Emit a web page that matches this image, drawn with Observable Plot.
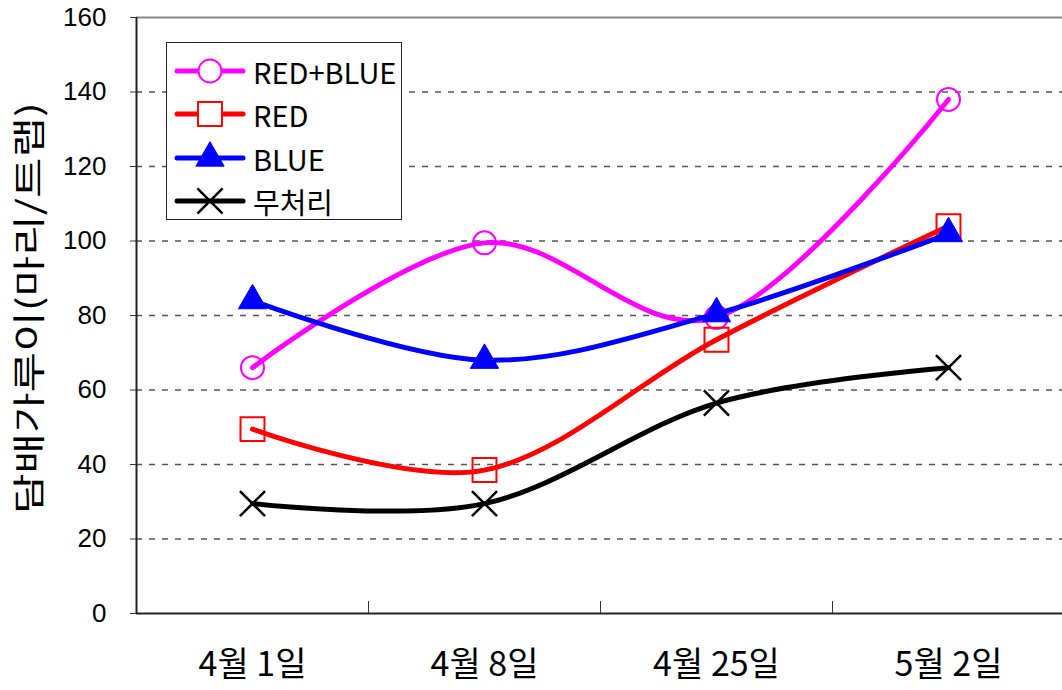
<!DOCTYPE html>
<html><head><meta charset="utf-8">
<script src="https://cdn.jsdelivr.net/npm/d3@7"></script>
<script src="https://cdn.jsdelivr.net/npm/@observablehq/plot@0.6"></script>
<style>
body{margin:0;background:#fff;}
#wrap{position:relative;width:1062px;height:690px;overflow:hidden;}
#legend{position:absolute;left:166px;top:42px;width:236px;height:178px;border:1.5px solid #222;background:#fff;box-sizing:border-box;padding-top:6px}
.row{display:flex;align-items:center;height:43.5px;}
.row svg{display:block}
.row span{font-size:29px;font-family:"Liberation Sans Narrow","Noto Sans CJK KR",sans-serif;margin-left:4px;color:#000}
</style></head><body><div id="wrap"><div id="legend"></div></div>
<script>
const categories = ["4월 1일", "4월 8일", "4월 25일", "5월 2일"];
const seriesNames = ["RED+BLUE", "RED", "BLUE", "무처리"];
const redBlue = [66, 99.5, 79.5, 138];
const red = [49.5, 38.5, 73.5, 104];
const blue = [84, 68, 80.5, 102];
const control = [29.5, 29.5, 56.5, 66];
const yTicks = [0, 20, 40, 60, 80, 100, 120, 140, 160];
const yLabel = "담배가루이(마리/트랩)";

const colors = ["#ff00ff", "#ff0000", "#0000ff", "#000000"];
const symbols = ["circle", "square", "triangle", "times"];
const radii = [11.5, 13.5, 10.5, 11.5];
const symFill = ["none", "none", "#0000ff", "none"];
const symStrokeW = [2, 2, 1, 2.5];
const values = [redBlue, red, blue, control];

const rows = [];
values.forEach((arr, s) => arr.forEach((v, i) => rows.push({i, cat: categories[i], series: seriesNames[s], v})));

const marks = [
  Plot.ruleY(yTicks.filter(t => t > 0 && t < 160), {stroke: "#555", strokeWidth: 1.3, strokeDasharray: "6,7"}),
  Plot.ruleY([160], {stroke: "#888", strokeWidth: 2}),
  Plot.ruleX([0.5, 1.5, 2.5], {y1: 0, y2: 3.2, stroke: "#333", strokeWidth: 1}),
  Plot.axisY({ticks: yTicks, tickSize: 6, tickPadding: 24, fontSize: 26, fontFamily: "Liberation Sans, sans-serif", label: null, stroke: "#333"}),
  Plot.axisX({ticks: [0, 1, 2, 3], tickSize: 0, tickPadding: 38, tickFormat: i => categories[i], fontSize: 34, fontFamily: "Noto Sans CJK KR, sans-serif", label: null}),
  Plot.ruleX([-0.5], {stroke: "#222", strokeWidth: 2}),
  Plot.ruleY([0], {stroke: "#222", strokeWidth: 2}),
  Plot.text([yLabel], {frameAnchor: "left", y: 82, dx: -106, rotate: -90, fontSize: 33, fontFamily: "Noto Sans CJK KR, sans-serif", textAnchor: "middle", fill: "#000", className: "ylabel"})
];
seriesNames.forEach((name, s) => {
  const d = rows.filter(r => r.series === name);
  marks.push(Plot.line(d, {x: "i", y: "v", stroke: colors[s], strokeWidth: 5, curve: "cardinal"}));
  marks.push(Plot.dot(d, {x: "i", y: "v", symbol: symbols[s], r: radii[s], stroke: colors[s], fill: symFill[s], strokeWidth: symStrokeW[s]}));
});

const chart = Plot.plot({
  width: 1062,
  height: 690,
  marginLeft: 136,
  marginTop: 17,
  marginBottom: 77,
  marginRight: 0,
  style: {background: "#fff", color: "#000", overflow: "visible"},
  x: {domain: [-0.5, 3.5], range: [136, 1064], axis: null},
  y: {domain: [0, 160], axis: null},
  marks
});
document.getElementById("wrap").prepend(chart);
// stretch the y-axis title along its length like the reference
chart.querySelectorAll(".ylabel text").forEach(t => {
  t.setAttribute("textLength", 412);
  t.setAttribute("lengthAdjust", "spacingAndGlyphs");
});

// legend
const legend = document.getElementById("legend");
seriesNames.forEach((name, s) => {
  const row = document.createElement("div");
  row.className = "row";
  const svg = d3.create("svg").attr("width", 82).attr("height", 40);
  svg.append("line").attr("x1", 10).attr("x2", 76).attr("y1", 20).attr("y2", 20)
    .attr("stroke", colors[s]).attr("stroke-width", 5).attr("stroke-linecap", "round");
  const symMap = {circle: d3.symbolCircle, square: d3.symbolSquare, triangle: d3.symbolTriangle, times: d3.symbolTimes};
  svg.append("path").attr("transform", "translate(43,20)")
    .attr("d", d3.symbol(symMap[symbols[s]], Math.PI * radii[s] * radii[s])())
    .attr("fill", symbols[s] === "triangle" ? colors[s] : "#fff")
    .attr("stroke", colors[s]).attr("stroke-width", symStrokeW[s]);
  row.appendChild(svg.node());
  const t = document.createElement("span");
  t.textContent = name;
  row.appendChild(t);
  legend.appendChild(row);
});
</script>
</body></html>
